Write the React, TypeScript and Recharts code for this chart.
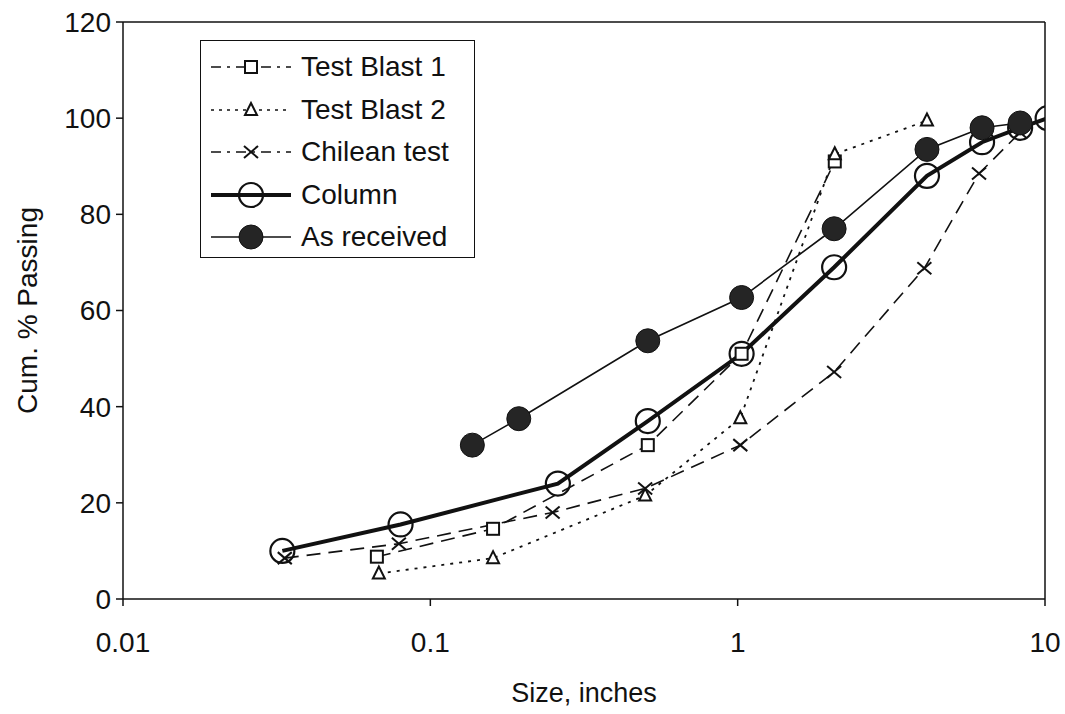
import { Label, Line, LineChart, ReferenceLine, XAxis, YAxis } from "recharts";

const blast1Size = [0.067, 0.16, 0.51, 1.03, 2.07];
const blast1Pass = [8.8, 14.6, 32, 51, 91];

const blast2Size = [0.068, 0.16, 0.5, 1.02, 2.07, 4.13];
const blast2Pass = [5.3, 8.5, 21.5, 37.6, 92.5, 99.5];

const chileSize = [0.0336, 0.079, 0.25, 0.5, 1.02, 2.06, 4.05, 6.1, 8.3];
const chilePass = [8.5, 11.5, 18, 23, 32, 47.2, 68.8, 88.5, 97];

const columnSize = [0.033, 0.08, 0.26, 0.51, 1.03, 2.06, 4.13, 6.24, 8.3, 10.2];
const columnPass = [10, 15.5, 24, 37, 51, 69, 88, 95, 98, 100];

const receivedSize = [0.137, 0.194, 0.51, 1.03, 2.06, 4.13, 6.24, 8.3];
const receivedPass = [32, 37.5, 53.7, 62.7, 77, 93.5, 98, 99];

const xTicks = [0.01, 0.1, 1, 10];
const yTicks = [0, 20, 40, 60, 80, 100, 120];

const toPoints = (xs: number[], ys: number[]) =>
  xs.map((x, i) => ({ x, y: ys[i] }));

const FONT = "Arial, 'Liberation Sans', sans-serif";
const INK = "#111";

function Square({ cx, cy }: any) {
  return <rect x={cx - 6} y={cy - 6} width={12} height={12} fill="#fff" stroke={INK} strokeWidth={2} />;
}
function Triangle({ cx, cy }: any) {
  return (
    <polygon
      points={`${cx},${cy - 7} ${cx - 6},${cy + 5} ${cx + 6},${cy + 5}`}
      fill="#fff"
      stroke={INK}
      strokeWidth={2}
    />
  );
}
function Cross({ cx, cy }: any) {
  return (
    <g stroke={INK} strokeWidth={2}>
      <line x1={cx - 7} y1={cy - 6} x2={cx + 7} y2={cy + 6} />
      <line x1={cx - 7} y1={cy + 6} x2={cx + 7} y2={cy - 6} />
    </g>
  );
}
function OpenCircle({ cx, cy }: any) {
  return <circle cx={cx} cy={cy} r={12} fill="none" stroke={INK} strokeWidth={2.2} />;
}
function FilledCircle({ cx, cy }: any) {
  return <circle cx={cx} cy={cy} r={12} fill="#252525" stroke={INK} strokeWidth={1} />;
}

const dotOf = (Shape: any) => (p: any) =>
  p.cx == null ? null : <Shape key={p.index} cx={p.cx} cy={p.cy} />;

const legendRows = [
  { name: "Test Blast 1", dash: "10 6 3 6", width: 1.6, Marker: Square },
  { name: "Test Blast 2", dash: "3 5", width: 1.6, Marker: Triangle },
  { name: "Chilean test", dash: "10 6 3 6", width: 1.6, Marker: Cross },
  { name: "Column", dash: undefined, width: 4, Marker: OpenCircle },
  { name: "As received", dash: undefined, width: 1.6, Marker: FilledCircle },
];

function ChartLegend() {
  return (
    <div
      style={{
        position: "absolute",
        left: 200,
        top: 40,
        width: 275,
        height: 218,
        border: "1.5px solid #111",
        background: "#fff",
        boxSizing: "border-box",
        fontFamily: FONT,
        fontSize: 28,
        color: INK,
      }}
    >
      {legendRows.map((r, i) => (
        <div
          key={r.name}
          style={{ position: "absolute", left: 6, top: 6 + i * 42.5, height: 40, display: "flex", alignItems: "center", whiteSpace: "nowrap" }}
        >
          <svg width={88} height={40}>
            <line x1={4} y1={20} x2={84} y2={20} stroke={INK} strokeWidth={r.width} strokeDasharray={r.dash} />
            <r.Marker cx={44} cy={20} />
          </svg>
          <span style={{ marginLeft: 6 }}>{r.name}</span>
        </div>
      ))}
    </div>
  );
}

export default function App() {
  const tick = { fill: INK, fontSize: 28, fontFamily: FONT };
  return (
    <div style={{ position: "absolute", left: 0, top: 0, width: 1065, height: 714, background: "#fff" }}>
      <LineChart width={1065} height={714} margin={{ top: 22, right: 20, bottom: 0, left: 0 }}>
        <XAxis
          dataKey="x"
          type="number"
          scale="log"
          domain={[0.01, 10]}
          ticks={xTicks}
          allowDataOverflow
          height={115}
          stroke={INK}
          strokeWidth={1.5}
          tick={tick}
          tickSize={7}
          tickMargin={26}
          tickFormatter={(v: number) => String(v)}
        >
          <Label value="Size, inches" position="insideBottom" offset={12} style={{ fontSize: 27, fontFamily: FONT, fill: INK }} />
        </XAxis>
        <YAxis
          type="number"
          domain={[0, 120]}
          ticks={yTicks}
          width={123}
          stroke={INK}
          strokeWidth={1.5}
          tick={tick}
          tickSize={7}
          tickMargin={5}
        >
          <Label
            value="Cum. % Passing"
            angle={-90}
            position="insideLeft"
            offset={27}
            style={{ fontSize: 28, fontFamily: FONT, fill: INK, textAnchor: "middle" }}
          />
        </YAxis>
        <ReferenceLine y={120} stroke={INK} strokeWidth={1.5} />
        <ReferenceLine x={10} stroke={INK} strokeWidth={1.5} />
        <Line
          data={toPoints(blast1Size, blast1Pass)}
          dataKey="y"
          type="linear"
          stroke={INK}
          strokeWidth={1.6}
          strokeDasharray="14 8"
          dot={dotOf(Square)}
          isAnimationActive={false}
        />
        <Line
          data={toPoints(blast2Size, blast2Pass)}
          dataKey="y"
          type="linear"
          stroke={INK}
          strokeWidth={1.8}
          strokeDasharray="3 6"
          dot={dotOf(Triangle)}
          isAnimationActive={false}
        />
        <Line
          data={toPoints(chileSize, chilePass)}
          dataKey="y"
          type="linear"
          stroke={INK}
          strokeWidth={1.6}
          strokeDasharray="14 8"
          dot={dotOf(Cross)}
          isAnimationActive={false}
        />
        <Line
          data={toPoints(columnSize, columnPass)}
          dataKey="y"
          type="linear"
          stroke={INK}
          strokeWidth={4}
          dot={dotOf(OpenCircle)}
          isAnimationActive={false}
        />
        <Line
          data={toPoints(receivedSize, receivedPass)}
          dataKey="y"
          type="linear"
          stroke={INK}
          strokeWidth={1.6}
          dot={dotOf(FilledCircle)}
          isAnimationActive={false}
        />
      </LineChart>
      <ChartLegend />
    </div>
  );
}
